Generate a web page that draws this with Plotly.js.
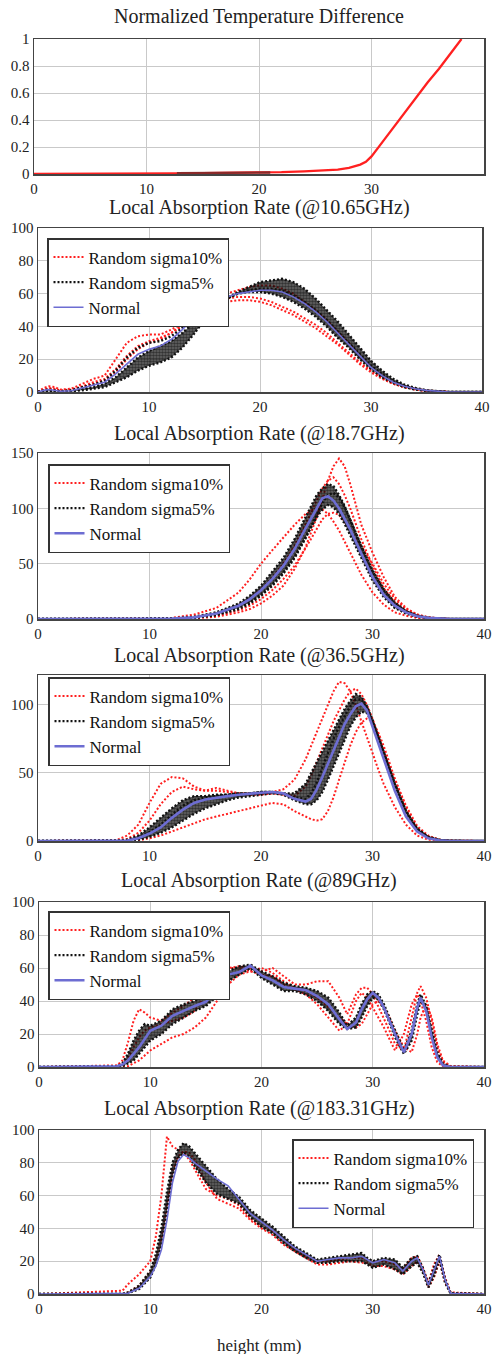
<!DOCTYPE html>
<html><head><meta charset="utf-8">
<script src="https://cdn.plot.ly/plotly-3.0.1.min.js"></script>
<style>body{margin:0;background:#fff}#chart{width:496px;height:1354px}</style>
</head><body><div id="chart"></div>
<script>
// ---------- Panel 1: Normalized Temperature Difference ----------
const x1 = [0,5,10,12.7,15,20,21,22,24,26,27,28,28.5,29,29.5,30,31,32,33,34,35,36,37,38];
const y1 = [0,0,0,0.005,0.007,0.009,0.012,0.014,0.02,0.027,0.033,0.045,0.055,0.07,0.09,0.13,0.24,0.35,0.46,0.57,0.68,0.78,0.89,1.0];
const x1dark = [12.7,21];
const y1dark = [0.006,0.011];

// ---------- Panel 2: 10.65 GHz ----------
const x2 = [0,0.5,1,1.5,2,3,4,5,6,7,8,9,10,11,12,13,14,15,16,17,18,19,20,21,22,23,24,25,26,27,28,29,30,31,32,33,34,35,36,37,40];
const norm2 = [0,1,1.5,1,0.5,0.8,2.5,4,6,11,17,23,26,28,32,38,45,51,55,58,60,61,62,62,61,58,54,49,43,36,29,22,15,10,6,3.5,2,1,0.3,0,0];
const redA2 = [0,2.5,3.5,3,1.5,2,5,8,10,20,30,34,35,35,38,42,47,52,55,57,58,58,57,55,52,49,45,41,36,30,24,18,13,8.5,5,3,1.5,0.5,0.1,0,0];
const redB2 = [0,1.5,2.5,2,1,1.5,3.5,6,8,14,22,28,31,33,36,41,47,53,57,60,62,64,65,65,63,60,55,50,44,37,30,22,15,10,6,3.5,2,1,0.3,0,0];
const redC2 = [0,1,2,1.5,0.5,1,3,5,7,12,20,26,30,32,36,40,46,50,53,55,56,56,55,53,50,47,43,39,34,29,23,17,12,8,5,3,1.5,0.5,0.1,0,0];
const blkA2 = [0,0.5,1,0.5,0,0.5,2,3,5,9,15,21,25,28,31,36,42,48,53,57,61,64,67,68,69,67,63,57,50,43,35,27,19,13,8,4.5,2.5,1,0.3,0,0];
const blkB2 = [0,0.3,0.5,0.3,0,0.3,1,2,3,6,9,13,16,18,21,27,35,44,52,57,60,61,61,60,58,55,51,46,40,33,27,20,14,9,5.5,3,1.5,0.6,0.2,0,0];
const blkC2 = [0,1,1.5,1,0.5,1,3,4.5,7,13,21,27,30,31,34,39,45,50,54,57,60,62,63,63,62,59,55,50,44,37,30,23,16,11,6.5,3.5,2,1,0.3,0,0];

// ---------- Panel 3: 18.7 GHz ----------
const x3 = [0,10,12,14,16,18,19,20,21,22,23,24,25,25.5,26,26.5,27,27.5,28,29,30,31,32,33,34,35,36,37,40];
const norm3 = [0,0,0.3,1.5,5,12,18,26,36,48,63,82,100,109,111,107,100,91,81,59,38,22,12,6,2.5,1,0.2,0,0];
const redA3 = [0,0.2,1,4,10,24,36,50,62,74,85,95,100,99,95,88,80,70,60,40,24,13,6,3,1,0.3,0,0,0];
const redB3 = [0,0,0,0.5,2,6,9,14,21,30,45,65,92,108,125,138,145,138,122,85,60,38,20,10,4,1.5,0.5,0,0];
const redC3 = [0,0,0.5,2,5,13,19,27,37,50,66,86,108,118,125,128,122,112,100,72,48,28,15,7,3,1,0.3,0,0];
const redD3 = [0,0,0,1,3,8,12,18,26,36,48,64,82,90,95,96,94,88,80,66,50,32,18,9,4,1.5,0.5,0,0];
const blkA3 = [0,0,0.5,2,6,14,21,30,42,55,72,92,112,118,122,120,112,102,90,65,43,26,14,7,3,1,0.3,0,0];
const blkB3 = [0,0,0.2,1,4,10,15,22,31,42,56,74,92,99,103,101,95,86,76,55,35,20,10,5,2,0.7,0.2,0,0];
const blkC3 = [0,0,0.2,1,3.5,9,14,21,30,41,55,73,95,105,112,114,110,101,90,66,44,27,15,7,3,1.2,0.4,0,0];

// ---------- Panel 4: 36.5 GHz ----------
const x4 = [0,7,8,9,10,11,12,13,14,15,16,17,18,19,20,21,22,23,24,24.5,25,25.5,26,26.5,27,27.5,28,28.5,29,29.5,30,30.5,31,31.5,32,33,34,35,36,37,40];
const norm4 = [0,0,0.3,2,5.5,10,17,23,28,30.5,32,33,34,35,35.5,36,35,31,29,31,38,47,57,67,77,86,93,99,101,96,84,72,60,48,37,18,7,2,0.5,0,0];
const redA4 = [0,0.5,4,12,28,42,47,46,40,37,37,36,35,35,35,36,38,45,60,70,80,90,100,110,117,116,110,100,88,76,64,53,42,33,25,12,4,1,0.3,0,0];
const redB4 = [0,0,0,0.5,2,4,7,10,13,16,18,20,22,24,26,28,27,22,18,16,15,16,22,32,45,58,70,80,87,90,88,80,70,58,46,25,10,3,1,0.3,0];
const redC4 = [0,0,1.5,6,15,27,36,40,38,37,39,37,35,34,34,35,34,33,40,48,58,68,78,88,96,104,110,112,108,100,90,78,66,55,45,26,11,4,1,0.3,0];
const blkA4 = [0,0,1,4,10,17,24,30,33,33,34,34,35,35,36,36,35,35,42,50,58,66,74,82,90,97,103,108,106,99,89,77,65,53,42,22,9,3,0.8,0.2,0];
const blkB4 = [0,0,0,1,3,6,10,15,20,24,27,30,32,33,34,35,34,30,27,27,30,36,45,55,65,75,84,91,95,94,87,77,65,53,42,22,9,3,0.8,0.2,0];
const blkC4 = [0,0,0.5,2.5,6.5,12,19,26,30,32,33,34,35,35,36,36,35,32,31,35,43,54,65,75,84,92,99,104,104,98,88,76,64,52,41,21,8,2.5,0.7,0,0];

// ---------- Panel 5: 89 GHz ----------
const x5 = [0,7,7.5,8,8.5,9,9.5,10,11,12,13,14,15,16,17,18,19,20,21,22,23,24,25,26,27,27.7,28.5,29,29.5,30,30.5,31,31.5,32,32.8,33.5,34,34.3,34.8,35.3,35.8,36.3,37,40];
const norm5 = [0,0.5,1.5,4,8,12,17,22,25,31,34,37,39.5,47,56,57.5,61.5,55.5,52.5,48.5,47.5,46.5,43,38,29,23,27,35,41,45,42,36,28,20,9,20,36,42,34,18,6,1,0,0];
const redA5 = [0,1,4,15,28,35,33,30,28,33,37,42,50,56,60,61,60,58,60,55,50,50,52,52,42,32,44,48,48,44,37,30,22,14,10,30,45,49,42,28,12,3,0.5,0];
const redB5 = [0,0,0,0.5,2,4,7,10,14,18,20,24,30,40,50,56,58,60,57,52,48,46,42,36,30,26,24,26,32,38,40,36,30,22,12,9,20,30,38,30,14,4,0.5,0];
const redC5 = [0,0.5,2,6,12,18,22,24,26,28,30,34,44,54,60,60,58,56,55,50,47,44,38,30,22,26,40,45,42,36,30,24,17,10,20,38,44,40,28,12,3,0.5,0,0];
const blkA5 = [0,0.5,2,8,16,22,26,25,28,35,38,40,45,52,58,61,62,58,55,51,49,48,46,42,33,25,30,38,44,46,44,38,30,22,10,22,38,44,37,20,7,1.5,0,0];
const blkB5 = [0,0,0.5,2,4,8,12,16,20,26,30,34,37,43,52,56,60,54,50,46,46,44,40,34,26,23,24,30,37,42,41,35,27,18,8,16,32,40,36,22,9,2,0,0];

// ---------- Panel 6: 183.31 GHz ----------
const x6 = [0,7.5,8,9,10,10.5,11,11.5,12,12.5,13,13.5,14,15,16,17,18,19,20,21,22,23,24,25,26,27,28,29,29.5,30,31,32,32.7,33.5,34,34.5,35,35.5,36,36.5,37,40];
const norm6 = [0,0,0.4,3.5,10.6,17,27,45,68,81,85,83,80,75,70,66,57.5,49,44,39,33,28,24,20,21,22,22,23,21,19,21,19,14,20,22,15,5.5,14,23,8.6,0.4,0];
const redA6 = [0,2,6,12,20,35,60,96,90,88,86,82,76,64,60,58,54,46,41,38,32,27,23,20,20,21,22,22,21,20,20,18,15,22,23,16,7,18,24,10,1,0];
const redB6 = [0,0,1,5,14,22,34,55,75,84,87,86,82,68,58,55,52,45,40,36,30,26,22,18,18,19,20,19,19,17,17,15,12,17,20,14,4,10,20,7,0.5,0];
const blkA6 = [0,0,1,5,14,24,40,62,80,88,92,90,86,78,70,64,59,51,46,41,35,29,25,21,22,23,24,25,22,20,22,21,16,22,23,16,6,16,24,9,0.5,0];
const blkB6 = [0,0,0.5,3,10,18,30,50,72,83,86,84,78,68,61,58,55,47,41,37,31,26,22,19,19,20,20,20,18,16,18,15,12,17,19,13,4,11,21,7,0.3,0];

const panelTitles = ["Normalized Temperature Difference","Local Absorption Rate (@10.65GHz)","Local Absorption Rate (@18.7GHz)","Local Absorption Rate (@36.5GHz)","Local Absorption Rate (@89GHz)","Local Absorption Rate (@183.31GHz)"];
const legendNames = ["Random sigma10%","Random sigma5%","Normal"];
const xTitle = "height (mm)";

// ---------- layout geometry (pixels) ----------
const W = 496, H = 1354;
const boxes = [
  {l:34,r:484,t:39,b:174},
  {l:38,r:482,t:228,b:392},
  {l:38,r:484,t:453,b:619},
  {l:38,r:484,t:675,b:841},
  {l:39,r:484,t:902,b:1067},
  {l:39,r:484,t:1130,b:1294}
];
const titleY = [17,207,433,655,880,1108];
const legendPos = [null,{x:47,y:238},{x:48,y:464},{x:48,y:677},{x:48,y:911},{x:292,y:1139}];
const yRanges = [[0,1],[0,100],[0,150],[0,122],[0,100],[0,100]];
const yTicks = [[0,0.2,0.4,0.6,0.8,1],[0,20,40,60,80,100],[0,50,100,150],[0,50,100],[0,20,40,60,80,100],[0,20,40,60,80,100]];
const xTicks = [[0,10,20,30],[0,10,20,30,40],[0,10,20,30,40],[0,10,20,30,40],[0,10,20,30,40],[0,10,20,30,40]];

const FONT = "'Liberation Serif', 'Times New Roman', 'DejaVu Serif', serif";
const RED = "#ff1f1f", BLK = "#111111", BLUE = "#6d6dd2";
const DOTS = "2px,2px";

const traces = [];
const ax = i => i === 0 ? '' : String(i+1);

traces.push({x:x1,y:y1,type:'scatter',mode:'lines',line:{color:'#ff2020',width:2.3},xaxis:'x',yaxis:'y',showlegend:false,hoverinfo:'skip'});
traces.push({x:x1dark,y:y1dark,type:'scatter',mode:'lines',line:{color:'#8a2a2a',width:2.3},xaxis:'x',yaxis:'y',showlegend:false,hoverinfo:'skip'});

// black band: first listed = lower envelope curve, second = upper envelope curve (dotted fill between them)
const panelData = [
  null,
  {x:x2, red:[redA2,redB2,redC2], blk:[blkB2,blkA2,blkC2], norm:norm2, nw:1.6},
  {x:x3, red:[redA3,redB3,redC3,redD3], blk:[blkB3,blkA3,blkC3], norm:norm3, nw:2.6},
  {x:x4, red:[redA4,redB4,redC4], blk:[blkB4,blkA4,blkC4], norm:norm4, nw:2.6},
  {x:x5, red:[redA5,redB5,redC5], blk:[blkB5,blkA5], norm:norm5, nw:2.6},
  {x:x6, red:[redA6,redB6], blk:[blkB6,blkA6], norm:norm6, nw:1.6}
];

for (let i = 1; i < 6; i++) {
  const p = panelData[i];
  const xa = 'x'+ax(i), ya = 'y'+ax(i);
  const lg = i === 1 ? 'legend' : 'legend'+i;
  p.red.forEach((yy,k) => traces.push({x:p.x,y:yy,type:'scatter',mode:'lines',name:legendNames[0],legendgroup:'r'+i,showlegend:k===0,legend:lg,line:{color:RED,width:2,dash:DOTS},xaxis:xa,yaxis:ya,hoverinfo:'skip'}));
  p.blk.forEach((yy,k) => {
    const t = {x:p.x,y:yy,type:'scatter',mode:'lines',name:legendNames[1],legendgroup:'k'+i,showlegend:k===0,legend:lg,line:{color:BLK,width:2.4,dash:DOTS},xaxis:xa,yaxis:ya,hoverinfo:'skip'};
    if (k === 1) {
      t.fill = 'tonexty';
      t.fillcolor = 'rgba(10,10,10,0.62)';
      t.fillpattern = {shape:'.', fgcolor:'#000', size:3, solidity:0.6, fillmode:'overlay'};
    }
    traces.push(t);
  });
  traces.push({x:p.x,y:p.norm,type:'scatter',mode:'lines',name:legendNames[2],legendgroup:'n'+i,showlegend:true,legend:lg,line:{color:BLUE,width:p.nw},xaxis:xa,yaxis:ya,hoverinfo:'skip'});
}

const layout = {
  width:W, height:H, margin:{l:0,r:0,t:0,b:0}, paper_bgcolor:'#fff', plot_bgcolor:'#fff',
  font:{family:FONT,color:'#222'}, annotations:[]
};
boxes.forEach((b,i) => {
  layout['xaxis'+ax(i)] = {domain:[b.l/W,b.r/W], anchor:'y'+ax(i), range:[0,40], tickvals:xTicks[i], ticktext:xTicks[i].map(String),
    showgrid:true, gridcolor:'#c9c9c9', gridwidth:1, zeroline:false, showline:true, mirror:true, linecolor:'#444', linewidth:1.5,
    ticks:'', tickfont:{family:FONT,size:15,color:'#222'}, fixedrange:true};
  layout['yaxis'+ax(i)] = {domain:[1-b.b/H,1-b.t/H], anchor:'x'+ax(i), range:yRanges[i], tickvals:yTicks[i], ticktext:yTicks[i].map(String),
    showgrid:true, gridcolor:'#c9c9c9', gridwidth:1, zeroline:false, showline:true, mirror:true, linecolor:'#444', linewidth:1.5,
    ticks:'', tickfont:{family:FONT,size:15,color:'#222'}, fixedrange:true};
  layout.annotations.push({text:panelTitles[i], xref:'paper', yref:'paper', x:259/W, y:1-titleY[i]/H, xanchor:'center', yanchor:'middle', showarrow:false, font:{family:FONT,size:20,color:'#222'}});
  if (legendPos[i]) {
    const key = i === 1 ? 'legend' : 'legend'+i;
    layout[key] = {x:legendPos[i].x/W, y:1-legendPos[i].y/H, xanchor:'left', yanchor:'top', bgcolor:'#fff', bordercolor:'#333', borderwidth:1.5,
      font:{family:FONT,size:17,color:'#111'}, tracegroupgap:0, itemwidth:30};
  }
});
layout.annotations.push({text:xTitle, xref:'paper', yref:'paper', x:259/W, y:1-1345/H, xanchor:'center', yanchor:'middle', showarrow:false, font:{family:FONT,size:17,color:'#222'}});

Plotly.newPlot('chart', traces, layout, {staticPlot:true, displayModeBar:false});
</script></body></html>
